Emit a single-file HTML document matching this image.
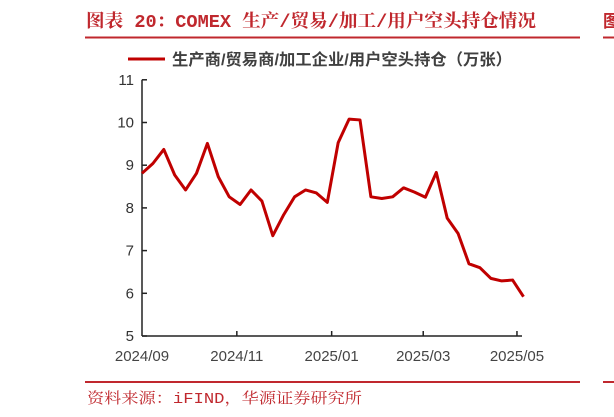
<!DOCTYPE html>
<html><head><meta charset="utf-8"><style>
body{margin:0;width:614px;height:417px;background:#fff;overflow:hidden;font-family:"Liberation Sans","Noto Sans CJK SC",sans-serif;}
svg{display:block}
</style></head><body>
<svg id="c" width="614" height="417">
<text x="86" y="27" font-size="18" font-weight="bold" fill="#c0282e" textLength="450" lengthAdjust="spacingAndGlyphs" font-family="Liberation Mono, Noto Serif CJK SC, serif">图表 20：COMEX 生产/贸易/加工/用户空头持仓情况</text>
<line x1="85" y1="37.5" x2="580" y2="37.5" stroke="#c0282e" stroke-width="2"/>
<line x1="603" y1="37.5" x2="614" y2="37.5" stroke="#c0282e" stroke-width="2"/>
<text x="603" y="27" font-size="17" font-weight="bold" fill="#c0282e">图</text>
<line x1="128" y1="59" x2="165" y2="59" stroke="#c00000" stroke-width="3"/>
<text x="172" y="65" font-size="16" font-weight="bold" fill="#404040" textLength="340" lengthAdjust="spacingAndGlyphs">生产商/贸易商/加工企业/用户空头持仓（万张）</text>
<g id="axes"></g>
<polyline id="line" fill="none" stroke="#c00000" stroke-width="3" stroke-linejoin="round"/>
<line x1="85" y1="382" x2="580" y2="382" stroke="#c0282e" stroke-width="2"/>
<line x1="603" y1="382" x2="614" y2="382" stroke="#c0282e" stroke-width="2"/>
<text x="87" y="403" font-size="15" fill="#c0282e" textLength="275" lengthAdjust="spacingAndGlyphs" font-family="Liberation Mono, Noto Serif CJK SC, serif">资料来源：iFIND，华源证券研究所</text>
</svg>
<script>
const values=[8.81,9.04,9.37,8.77,8.42,8.81,9.51,8.73,8.26,8.08,8.42,8.16,7.35,7.84,8.26,8.42,8.35,8.13,9.53,10.08,10.06,8.26,8.22,8.26,8.47,8.37,8.25,8.83,7.76,7.4,6.69,6.6,6.35,6.29,6.31,5.92];
const yTicks=[5,6,7,8,9,10,11];
const xLabels=["2024/09","2024/11","2025/01","2025/03","2025/05"];
const xLabelIdx=[0,8.7,17.4,25.8,34.4];
const X0=142,DX=10.9,Y0=336,DY=42.7;
const xs=i=>X0+i*DX, ys=v=>Y0-(v-5)*DY;
const ns="http://www.w3.org/2000/svg",g=document.getElementById('axes');
function mk(t,a){const e=document.createElementNS(ns,t);for(const k in a)e.setAttribute(k,a[k]);g.appendChild(e);return e;}
let e=mk('line',{x1:X0,y1:ys(11),x2:X0,y2:Y0,stroke:'#222','stroke-width':1.5});


e=mk('line',{x1:X0,y1:Y0,x2:522,y2:Y0,stroke:'#222','stroke-width':1.5});


yTicks.forEach(v=>{
 const t=mk('line',{x1:X0,y1:ys(v),x2:X0+5,y2:ys(v),stroke:'#222','stroke-width':1.5});
 
 
 const l=mk('text',{x:X0-8,y:ys(v)+5,'font-size':15,fill:'#333','text-anchor':'end'});l.textContent=v;
 
 
});
xLabels.forEach((s,i)=>{
 const x=xs(xLabelIdx[i]);
 if(i>0){const t=mk('line',{x1:x,y1:Y0,x2:x,y2:Y0-5,stroke:'#222','stroke-width':1.5});
 
 }
 const l=mk('text',{x:x,y:Y0+25,'font-size':15,fill:'#444','text-anchor':'middle'});l.textContent=s;
 
 
});
document.getElementById('line').setAttribute('points',values.map((v,i)=>xs(i)+','+ys(v)).join(' '));
</script>
</body></html>
